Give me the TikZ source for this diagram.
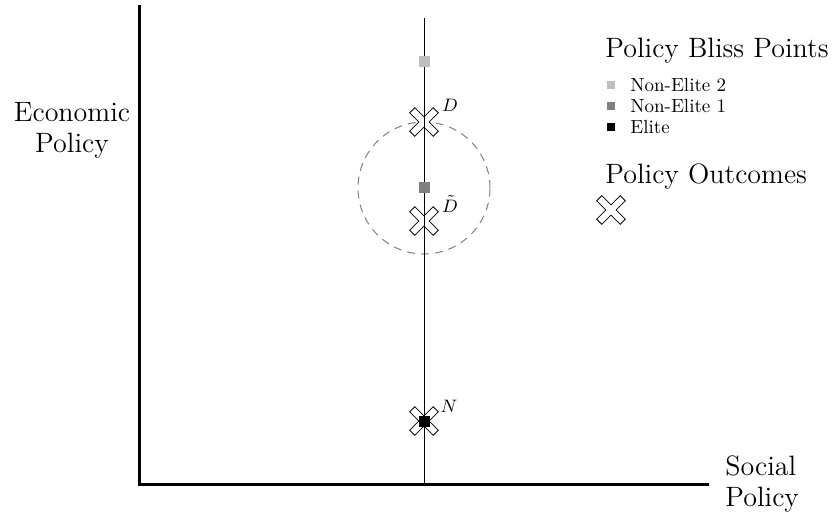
\documentclass[tikz,border=0pt]{standalone}
\usetikzlibrary{calc}
\definecolor{lgray}{HTML}{BFBFBF}
\definecolor{mgray}{HTML}{808080}
\tikzset{
  axis/.style={line width=1.5pt},
  bigtext/.style={font=\fontsize{14}{15.5}\selectfont, inner sep=0pt},
  smalltext/.style={font=\fontsize{9.5}{11}\selectfont, inner sep=0pt, anchor=west},
  ptlabel/.style={font=\fontsize{9.5}{11}\selectfont, inner sep=0pt},
  plotsq/.style={rectangle, minimum size=5.5pt, inner sep=0pt},
  legsq/.style={rectangle, minimum size=3.8pt, inner sep=0pt},
  xmark/.pic={
    \filldraw[fill=white, draw=black, line width=0.4pt, rotate=45]
      (-1.8pt,-8.3pt) -- (1.8pt,-8.3pt) -- (1.8pt,-1.8pt) -- (8.3pt,-1.8pt)
      -- (8.3pt,1.8pt) -- (1.8pt,1.8pt) -- (1.8pt,8.3pt) -- (-1.8pt,8.3pt)
      -- (-1.8pt,1.8pt) -- (-8.3pt,1.8pt) -- (-8.3pt,-1.8pt) -- (-1.8pt,-1.8pt) -- cycle;
  }
}
\begin{document}
\begin{tikzpicture}[x=0.5pt,y=-0.5pt]
\useasboundingbox (0,0) rectangle (835,517);
% axes
\coordinate (top) at (139,5);
\coordinate (origin) at (139,485);
\coordinate (right) at (709,485);
\draw[axis] (top) -- (origin) -- (right);
% dashed circle
\coordinate (cc) at (424,188);
\draw[gray, dashed, dash pattern=on 4pt off 3pt, line width=0.5pt] (cc) circle[radius=33pt];
% outcomes
\coordinate (D) at (424,122);
\coordinate (Dt) at (424,221);
\coordinate (N) at (424,421);
\pic at (D) {xmark};
\pic at (Dt) {xmark};
\pic at (N) {xmark};
% vertical line
\coordinate (vtop) at (424,18);
\coordinate (vbot) at (424,485);
\draw[line width=0.4pt] (vtop) -- (vbot);
% bliss points
\node[plotsq, fill=lgray] (ne2) at (424,62) {};
\node[plotsq, fill=mgray] (ne1) at (424,188) {};
\node[plotsq, fill=black] (el) at (424,422) {};
% labels
\node[ptlabel] (Dl) at (450,105) {$D$};
\node[ptlabel] (Dtl) at (450,204) {$\tilde{D}$};
\node[ptlabel] (Nl) at (449,406) {$N$};
% axis labels
\node[bigtext, align=center] (ylab) at (72,130) {Economic\\Policy};
\node[bigtext, align=left, anchor=west] (xlab) at (725,484) {Social\\Policy};
% legend
\node[bigtext, anchor=west] (lt) at (605,51) {Policy Bliss Points};
\node[legsq, fill=lgray] (l1) at (611,85) {};
\node[legsq, fill=mgray] (l2) at (611,106) {};
\node[legsq, fill=black] (l3) at (611,127) {};
\node[smalltext] (t1) at (630,85) {Non-Elite 2};
\node[smalltext] (t2) at (630,106) {Non-Elite 1};
\node[smalltext] (t3) at (630,127) {Elite};
\node[bigtext, anchor=west] (ot) at (605,177) {Policy Outcomes};
\coordinate (om) at (611,210);
\pic at (om) {xmark};
\end{tikzpicture}
\end{document}
